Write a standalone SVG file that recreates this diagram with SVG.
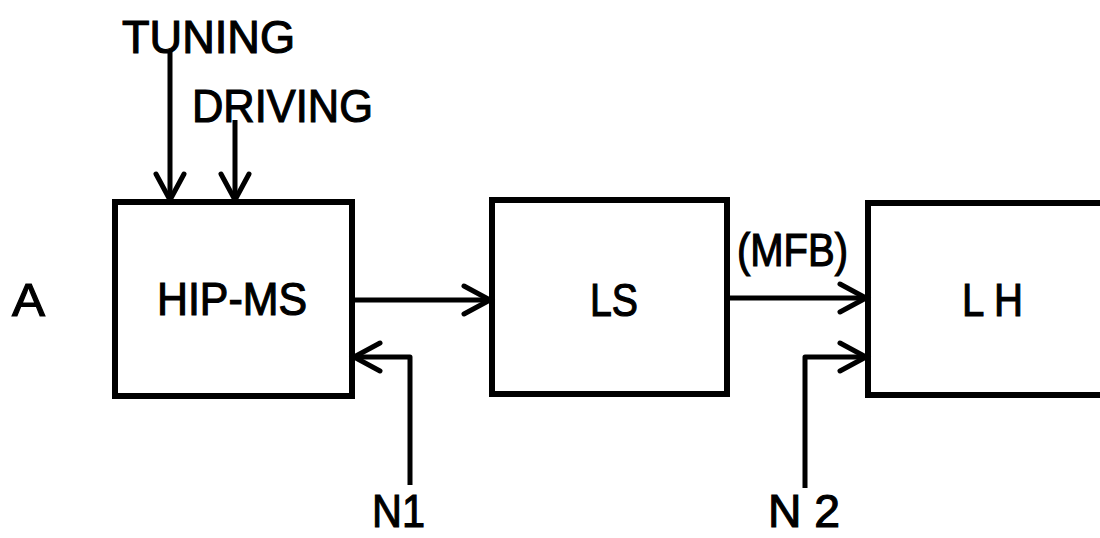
<svg xmlns="http://www.w3.org/2000/svg" width="1100" height="538" viewBox="0 0 1100 538">
<style>
.box{fill:none;stroke:#000;stroke-width:6}
.ln{fill:none;stroke:#000;stroke-width:5;stroke-linejoin:round}
.t{font-family:"Liberation Sans",Arial,sans-serif;font-size:47px;fill:#000;stroke:#000;stroke-width:1.2}
</style>
<defs>
<marker id="ah" markerUnits="userSpaceOnUse" markerWidth="40" markerHeight="40" viewBox="-30 -20 34 40" refX="0" refY="0" orient="auto">
<path d="M-26,-14 L0,0 L-26,14" fill="none" stroke="#000" stroke-width="5" stroke-linecap="round" stroke-linejoin="miter"/>
</marker>
</defs>
<rect width="1100" height="538" fill="#fff"/>
<g id="hipms">
<rect class="box" x="115" y="202" width="237" height="194"/>
<text class="t" x="157" y="315" textLength="150" lengthAdjust="spacingAndGlyphs">HIP-MS</text>
</g>
<g id="ls">
<rect class="box" x="492" y="200" width="235" height="194"/>
<text class="t" x="590" y="316" textLength="48" lengthAdjust="spacingAndGlyphs">LS</text>
</g>
<g id="lh">
<rect class="box" x="868" y="203" width="260" height="192"/>
<text class="t" x="962" y="316" textLength="61" lengthAdjust="spacingAndGlyphs">L H</text>
</g>
<g id="labels">
<text class="t" x="12" y="316" textLength="33" lengthAdjust="spacingAndGlyphs">A</text>
<text class="t" x="122" y="53" textLength="173" lengthAdjust="spacingAndGlyphs">TUNING</text>
<text class="t" x="192" y="122" textLength="181" lengthAdjust="spacingAndGlyphs">DRIVING</text>
<text class="t" x="737" y="266" textLength="111" lengthAdjust="spacingAndGlyphs">(MFB)</text>
<text class="t" x="372" y="527" textLength="53" lengthAdjust="spacingAndGlyphs">N1</text>
<text class="t" x="768" y="527" textLength="72" lengthAdjust="spacingAndGlyphs">N 2</text>
</g>
<g id="connectors">
<path class="ln" d="M170,50 V200" marker-end="url(#ah)"/>
<path class="ln" d="M235,120 V200" marker-end="url(#ah)"/>
<path class="ln" d="M352,300 H490" marker-end="url(#ah)"/>
<path class="ln" d="M410,485 V357 H354" marker-end="url(#ah)"/>
<path class="ln" d="M727,298 H866" marker-end="url(#ah)"/>
<path class="ln" d="M805,488 V357 H866" marker-end="url(#ah)"/>
</g>
</svg>
